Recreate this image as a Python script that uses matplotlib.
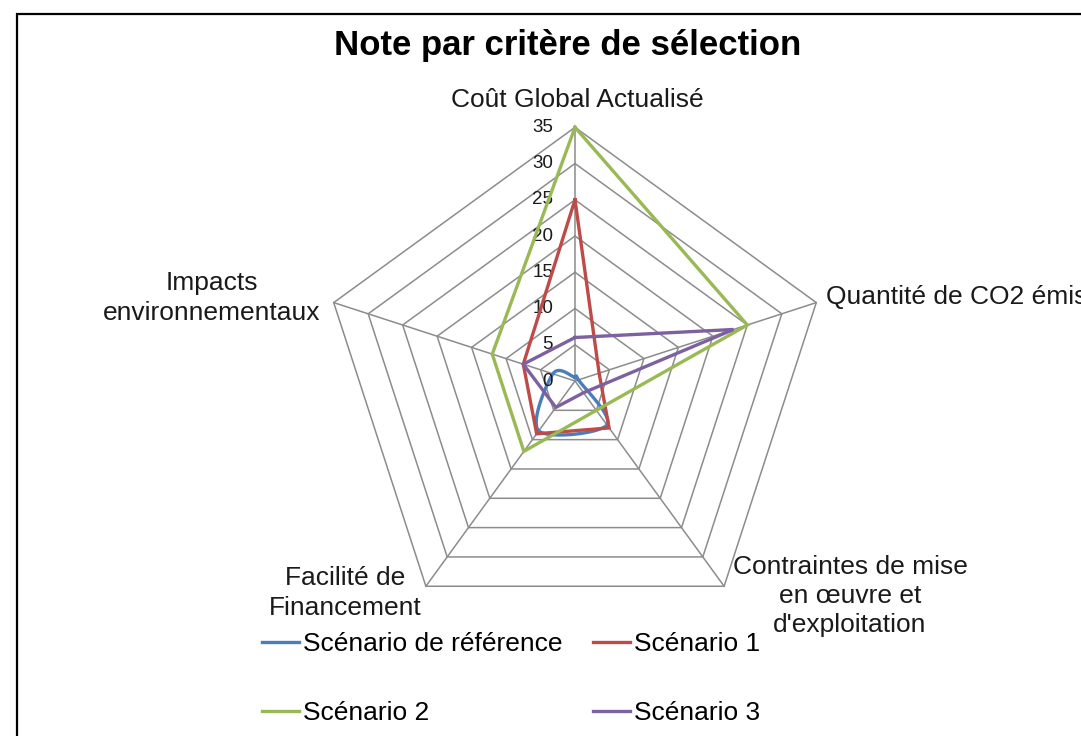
import numpy as np
import matplotlib
matplotlib.use("Agg")
import matplotlib.pyplot as plt
from matplotlib.patches import Rectangle

plt.rcParams['font.family'] = ['Liberation Sans', 'DejaVu Sans']

# ---- data ----
categories = ["Coût Global Actualisé", "Quantité de CO2 émis",
              "Contraintes de mise\nen œuvre et\nd'exploitation",
              "Facilité de\nFinancement", "Impacts\nenvironnementaux"]
series_names = ["Scénario de référence", "Scénario 1", "Scénario 2", "Scénario 3"]
ref_values = [0.5, 0.5, 7.5, 8.5, 3.2]
s1_values = [25, 3.5, 8, 9, 7.5]
s2_values = [35, 25, 5, 12, 12]
s3_values = [6, 23, 2, 4.5, 7.5]
tick_values = [0, 5, 10, 15, 20, 25, 30, 35]
colors = ["#4a7ebb", "#be4b48", "#98b954", "#7d60a0"]

W, H = 1081, 736
fig = plt.figure(figsize=(W / 100, H / 100), dpi=100)
fig.patch.set_facecolor("white")

cx, cy, R = 575, 381, 253.7
ax = fig.add_axes([(cx - R) / W, (H - cy - R) / H, 2 * R / W, 2 * R / H], projection="polar")
ax.set_theta_offset(np.pi / 2)
ax.set_theta_direction(-1)
ax.set_ylim(0, 35)
ax.axis("off")

n = len(categories)
angles = np.arange(n) * 2 * np.pi / n
closed = np.append(angles, angles[0])

grid_col = "#8c8c8c"
for v in tick_values[1:]:
    ax.plot(closed, [v] * (n + 1), color=grid_col, lw=1.1, clip_on=False, zorder=1)
for a in angles:
    ax.plot([a, a], [0, tick_values[-1]], color=grid_col, lw=1.1, clip_on=False, zorder=1)


def smooth_closed(theta, r, steps=24):
    x = np.asarray(r) * np.sin(theta)
    y = np.asarray(r) * np.cos(theta)
    P = np.column_stack([x, y])
    m = len(P)
    pts = []
    for i in range(m):
        p0, p1, p2, p3 = P[i - 1], P[i], P[(i + 1) % m], P[(i + 2) % m]
        for t in np.linspace(0, 1, steps, endpoint=False):
            t2, t3 = t * t, t * t * t
            pt = 0.5 * ((2 * p1) + (-p0 + p2) * t + (2 * p0 - 5 * p1 + 4 * p2 - p3) * t2
                        + (-p0 + 3 * p1 - 3 * p2 + p3) * t3)
            pts.append(pt)
    pts.append(pts[0])
    pts = np.array(pts)
    return np.arctan2(pts[:, 0], pts[:, 1]), np.hypot(pts[:, 0], pts[:, 1])


handles = []
all_vals = [ref_values, s1_values, s2_values, s3_values]
for i, (name, vals) in enumerate(zip(series_names, all_vals)):
    if i == 0:
        th, rr = smooth_closed(angles, vals)
        ln, = ax.plot(th, rr, color=colors[i], lw=2.4, label=name, clip_on=False, zorder=3 + i)
    else:
        ln, = ax.plot(closed, list(vals) + [vals[0]], color=colors[i], lw=2.4, label=name,
                      clip_on=False, zorder=3 + i, solid_joinstyle="miter")
    handles.append(ln)

txt_col = "#1a1a1a"
for v in tick_values:
    ax.annotate(str(v), xy=(0, v), xytext=(-22, 0), textcoords="offset pixels",
                ha="right", va="center", fontsize=13.5, color=txt_col, annotation_clip=False)

# category labels
label_pos = [(577, 100, "center"), (826, 297, "left"), (850, 596, "center"),
             (345, 593, "center"), (212, 298, "center")]
for lab, (x, y, ha) in zip(categories, label_pos):
    fig.text(x / W, 1 - y / H, lab, ha=ha, va="center", fontsize=19, color=txt_col,
             linespacing=1.27, multialignment="center")

fig.text(568 / W, 1 - 45 / H, "Note par critère de sélection", ha="center", va="center",
         fontsize=25, fontweight="bold", color="black")

order = [0, 2, 1, 3]
fig.legend([handles[k] for k in order], [series_names[k] for k in order],
           ncol=2, frameon=False, fontsize=19, loc="upper left",
           bbox_to_anchor=(262 / W, 1 - 632 / H), handlelength=1.4, handletextpad=0.15,
           columnspacing=1.15, labelspacing=1.7, borderpad=0, borderaxespad=0)

fig.patches.append(Rectangle((17 / W, -0.1), 1.2, (H - 14) / H + 0.1, transform=fig.transFigure,
                             fill=False, lw=1.6, ec="black"))

fig.savefig("out.png", dpi=100, facecolor="white")
